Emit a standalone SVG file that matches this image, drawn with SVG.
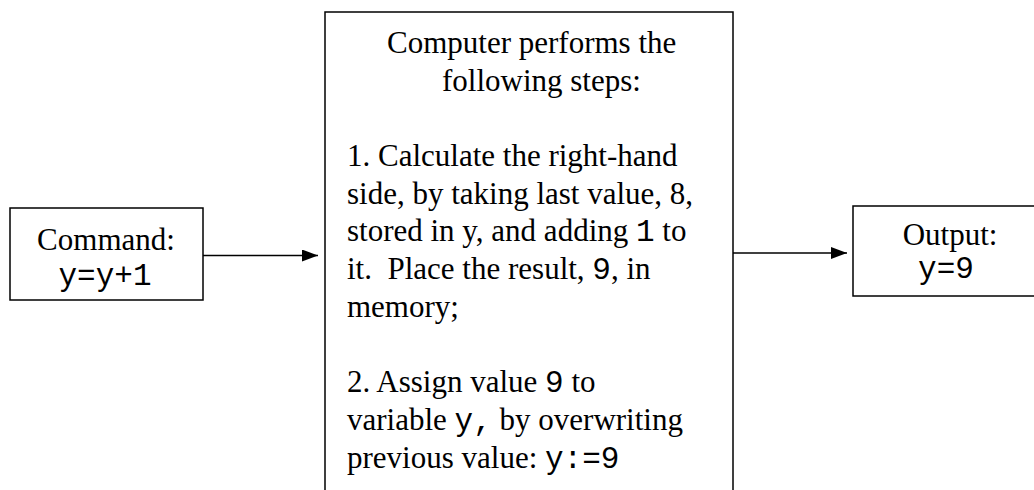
<svg xmlns="http://www.w3.org/2000/svg" width="1034" height="490" viewBox="0 0 1034 490">
  <style>
    .box { fill: #ffffff; stroke: #000000; stroke-width: 1.5; }
    .t { font-family: "Liberation Serif", "Times New Roman", serif; font-size: 31px; fill: #000000; }
    .m { font-family: "Liberation Mono", "Courier New", monospace; }
    .pre { white-space: pre; }
    .edge { stroke: #000000; stroke-width: 1.5; fill: none; }
  </style>
  <defs>
    <marker id="arrow" viewBox="0 0 16 12" refX="16" refY="6" markerWidth="16" markerHeight="12" markerUnits="userSpaceOnUse" orient="auto">
      <path d="M0,0 L16,6 L0,12 Z" fill="#000000"/>
    </marker>
  </defs>

  <rect width="1034" height="490" fill="#ffffff"/>

  <g id="command">
    <rect class="box" x="10" y="208" width="193" height="92"/>
    <text class="t" x="106" y="250" text-anchor="middle">Command:</text>
    <text class="t m" x="105" y="285" text-anchor="middle">y=y+1</text>
  </g>

  <g id="computer">
    <rect class="box" x="325" y="12" width="408" height="490"/>
    <text class="t" x="387" y="53">Computer performs the</text>
    <text class="t" x="442" y="90.7">following steps:</text>
    <text class="t" x="347" y="166">1. Calculate the right-hand</text>
    <text class="t" x="347" y="203.7">side, by taking last value, 8,</text>
    <text class="t" x="347" y="241.4">stored in y, and adding <tspan class="m">1</tspan> to</text>
    <text class="t pre" x="347" y="279.1" xml:space="preserve">it.  Place the result, <tspan class="m">9</tspan>, in</text>
    <text class="t" x="347" y="316.8">memory;</text>
    <text class="t" x="347" y="392.2">2. Assign value <tspan class="m">9</tspan> to</text>
    <text class="t" x="347" y="429.9">variable <tspan class="m">y,</tspan> by overwriting</text>
    <text class="t" x="347" y="467.6">previous value: <tspan class="m">y:=9</tspan></text>
  </g>

  <g id="output">
    <rect class="box" x="853" y="206" width="200" height="90"/>
    <text class="t" x="950" y="245" text-anchor="middle">Output:</text>
    <text class="t m" x="946" y="278" text-anchor="middle">y=9</text>
  </g>

  <g id="connectors">
    <line class="edge" x1="203" y1="255.5" x2="318" y2="255.5" marker-end="url(#arrow)"/>
    <line class="edge" x1="733" y1="253" x2="847" y2="253" marker-end="url(#arrow)"/>
  </g>
</svg>
